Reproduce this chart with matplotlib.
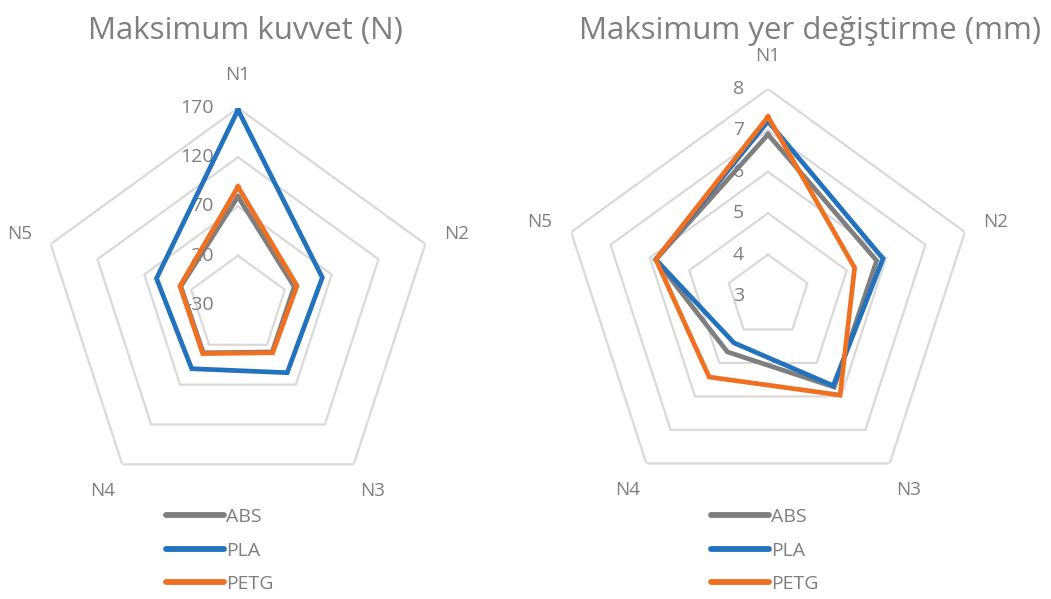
import numpy as np
import matplotlib.pyplot as plt
from matplotlib.lines import Line2D
from matplotlib.transforms import offset_copy

plt.rcParams['font.family'] = ['Open Sans', 'DejaVu Sans']

# categories and series
categories = ['N1', 'N2', 'N3', 'N4', 'N5']
series = ['ABS', 'PLA', 'PETG']
colors = ['#7F7F7F', '#2272BE', '#F07022']

# Maksimum kuvvet (N)
force_abs = [80, 30, 29, 30, 31]
force_pla = [168, 60, 55, 50, 57]
force_petg = [90, 33, 30, 31, 32]
force_ticks = [-30, 20, 70, 120, 170]

# Maksimum yer degistirme (mm)
disp_abs = [6.9, 5.76, 5.72, 4.67, 5.85]
disp_pla = [7.22, 5.92, 5.68, 4.4, 5.85]
disp_petg = [7.33, 5.2, 5.96, 5.42, 5.85]
disp_ticks = [3, 4, 5, 6, 7, 8]

fig = plt.figure(figsize=(10.51, 5.99), dpi=100)

angles = np.arange(len(categories)) * 2 * np.pi / len(categories)
closed = np.append(angles, angles[0])

grid_c = '#D9D9D9'
text_c = '#7F7F7F'


def radar(rect, data, ticks, title, title_x):
    ax = fig.add_axes(rect, projection='polar')
    ax.set_theta_offset(np.pi / 2)
    ax.set_theta_direction(-1)
    ax.set_ylim(ticks[0], ticks[-1])
    ax.grid(False)
    ax.spines['polar'].set_visible(False)
    ax.set_yticks([])
    ax.set_xticks(angles)
    ax.set_xticklabels(categories, fontsize=13.5, color=text_c)
    ax.tick_params(axis='x', pad=13)

    # pentagon grid
    for t in ticks[1:]:
        ax.plot(closed, [t] * len(closed), color=grid_c, lw=1.6, zorder=1)

    for vals, c, lab in zip(data, colors, series):
        v = list(vals) + [vals[0]]
        ax.plot(closed, v, color=c, lw=3.4, label=lab, zorder=3,
                solid_joinstyle='miter')

    # value labels along N1 axis
    trans = offset_copy(ax.transData, fig=fig, x=-24, y=0, units='dots')
    for t in ticks:
        ax.text(0, t, str(t), transform=trans, ha='right', va='center',
                fontsize=14, color=text_c, zorder=2)

    fig.text(title_x, 0.948, title, ha='center', va='center',
             fontsize=22.5, color='#7F7F7F')
    return ax


radar([0.0390, 0.1620, 0.3749, 0.6578], [force_abs, force_pla, force_petg],
      force_ticks, 'Maksimum kuvvet (N)', 245 / 1051)
radar([0.5338, 0.1603, 0.3939, 0.6912], [disp_abs, disp_pla, disp_petg],
      disp_ticks, 'Maksimum yer değiştirme (mm)', 810 / 1051)

handles = [Line2D([], [], color=c, lw=4.2, solid_capstyle='round') for c in colors]
for x0 in [166 / 1051, 711 / 1051]:
    leg = fig.legend(handles, series, loc='upper left',
                     bbox_to_anchor=(x0, 1 - 508 / 599), frameon=False,
                     fontsize=14, handlelength=3.0, handletextpad=0.1,
                     labelspacing=0.8, borderpad=0, borderaxespad=0)
    for t in leg.get_texts():
        t.set_color(text_c)

fig.savefig('out.png', dpi=100)
